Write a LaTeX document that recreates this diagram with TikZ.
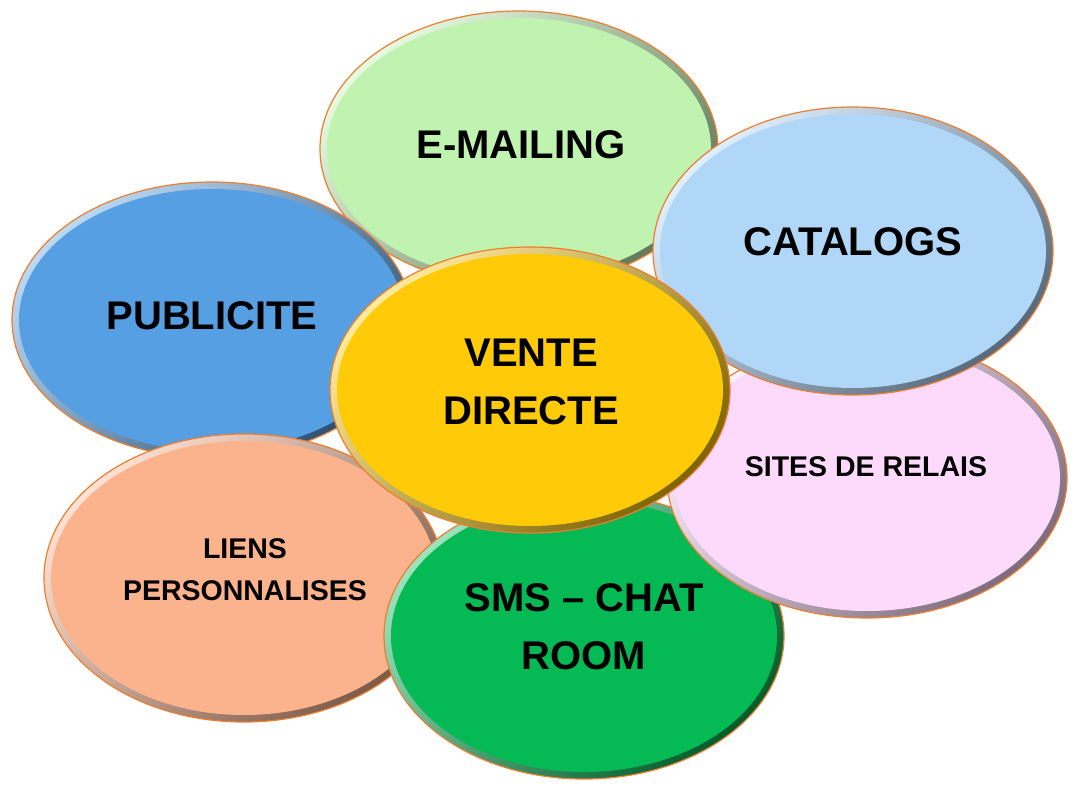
\documentclass[tikz,border=0pt]{standalone}
\usepackage{fontspec}
\setmainfont{Liberation Sans}
\usetikzlibrary{shapes.geometric}
\definecolor{edge}{RGB}{237,125,49}
\definecolor{cEmail}{RGB}{192,243,176}
\definecolor{cCat}{RGB}{176,214,248}
\definecolor{cPub}{RGB}{85,159,226}
\definecolor{cVente}{RGB}{255,202,8}
\definecolor{cSites}{RGB}{253,218,251}
\definecolor{cLiens}{RGB}{251,179,142}
\definecolor{cSms}{RGB}{5,186,85}
\begin{document}
\begin{tikzpicture}[x=1pt,y=-1pt,
  blob/.style n args={3}{ellipse, inner sep=0pt, outer sep=0pt,
    minimum width=#2pt, minimum height=#3pt, draw=edge, line width=1.2pt,
    top color=#1!40!white, middle color=#1, bottom color=#1!50!black, shading angle=45,
    path picture={\fill[#1] (path picture bounding box.center) ellipse [x radius={#2/2-7}, y radius={#3/2-7}];}},
  big/.style={font=\fontsize{40}{58}\selectfont\bfseries, align=center, inner sep=0pt},
  small/.style={font=\fontsize{28.5}{42}\selectfont\bfseries, align=center, inner sep=0pt}]
\useasboundingbox (0,0) rectangle (1090,789);
\fill[white] (0,0) rectangle (1090,789);

\node[blob={cEmail}{398}{276}] (email) at (519,149) {};
\node[big] (emailt) at (521,145) {E-MAILING};

\node[blob={cPub}{400}{276}] (pub) at (212,320) {};
\node[big] (pubt) at (212,316) {PUBLICITE};

\node[blob={cLiens}{400}{288}] (liens) at (244,578) {};
\node[small] (lienst) at (245,570) {LIENS\\PERSONNALISES};

\node[blob={cSms}{400}{286}] (sms) at (584,636) {};
\node[big] (smst) at (584,627) {SMS -- CHAT\\ROOM};

\node[blob={cSites}{400}{280}] (sites) at (867,478) {};
\node[small] (sitest) at (866,467) {SITES DE RELAIS};

\node[blob={cCat}{400}{288}] (cat) at (853,251) {};
\node[big] (catt) at (853,242) {CATALOGS};

\node[blob={cVente}{400}{286}] (vente) at (530,390) {};
\node[big] (ventet) at (531,382) {VENTE\\DIRECTE};
\end{tikzpicture}
\end{document}
